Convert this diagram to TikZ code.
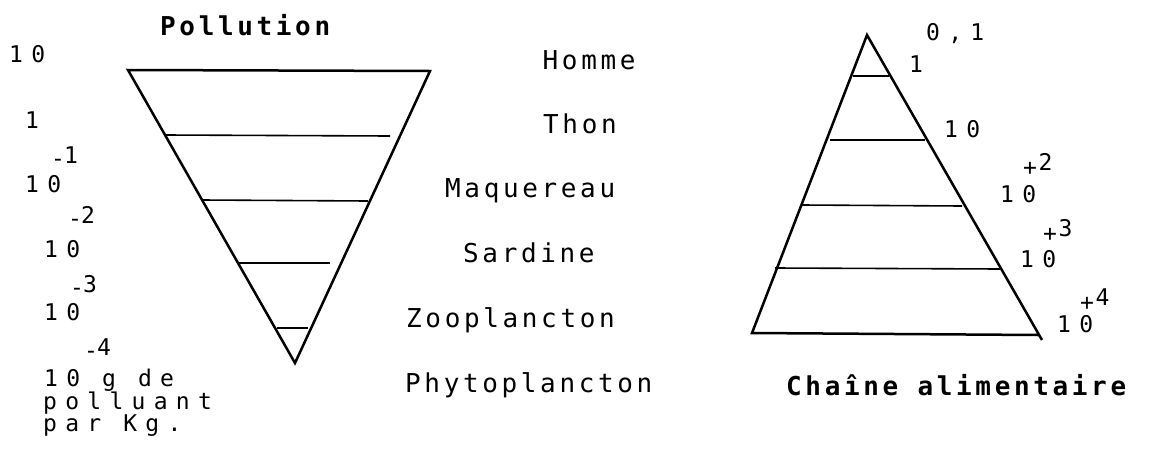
\documentclass[tikz,border=0pt]{standalone}
\usepackage{fontspec}
\newfontfamily\dotfont[LetterSpace=14]{DejaVu Sans Mono}
\newfontfamily\numfont[LetterSpace=36]{DejaVu Sans Mono}
\newcommand{\moins}{\raisebox{-3.5pt}{-}\kern-1pt}
\newcommand{\plusexp}{\raisebox{-5pt}{+}\kern1.5pt}
\newcommand{\espace}{\spaceskip=22pt\relax}
\tikzset{
  etage/.style={font=\dotfont\fontsize{26}{30}\selectfont, inner sep=0pt, anchor=base west},
  titre/.style={font=\dotfont\bfseries\fontsize{26}{30}\selectfont, inner sep=0pt, anchor=base west},
  chiffre/.style={font=\numfont\fontsize{23}{26}\selectfont, execute at begin node=\espace, inner sep=0pt, anchor=base west},
  bord/.style={line width=2.5pt, line join=miter},
  niveau/.style={line width=1.6pt},
}
\begin{document}
\begin{tikzpicture}[x=1pt,y=-1pt]
\useasboundingbox[fill=white] (0,0) rectangle (1151,458);

\node[titre] (pol) at (160,35) {Pollution};
\node[titre] (chaine) at (786,395) {Chaîne alimentaire};

\draw[bord] (128,70) -- (430,71) -- (295,363) -- cycle;
\draw[niveau] (165,135) -- (390,136);
\draw[niveau] (202,200) -- (368,201);
\draw[niveau] (238,263) -- (330,263);
\draw[niveau] (277,328) -- (308,328);

\draw[bord] (1042,340) -- (867,35) -- (752,333) -- (1038,335);
\draw[niveau] (853,76) -- (889,76);
\draw[niveau] (830,140) -- (925,140);
\draw[niveau] (802,205) -- (962,206);
\draw[niveau] (775,268) -- (1000,269);

\node[etage] (homme) at (542.5,69) {Homme};
\node[etage] (thon) at (543,133) {Thon};
\node[etage] (maq) at (445,197) {Maquereau};
\node[etage] (sard) at (463,262) {Sardine};
\node[etage] (zoo) at (406,327) {Zooplancton};
\node[etage] (phyto) at (405,392) {Phytoplancton};

\node[chiffre] (g10a) at (9,62) {10};
\node[chiffre] (g1) at (25,128) {1};
\node[chiffre] (ge1) at (51,163) {\moins1};
\node[chiffre] (g10b) at (25,192) {10};
\node[chiffre] (ge2) at (68,223) {\moins2};
\node[chiffre] (g10c) at (44,257) {10};
\node[chiffre] (ge3) at (70,292) {\moins3};
\node[chiffre] (g10d) at (44,320) {10};
\node[chiffre] (ge4) at (84,355) {\moins4};
\node[chiffre] (leg1) at (44,386) {10 g de};
\node[chiffre] (leg2) at (43,409) {polluant};
\node[chiffre] (leg3) at (43,431) {par Kg.};

\node[chiffre] (c01) at (926,40) {0,1};
\node[chiffre] (c1) at (909,72) {1};
\node[chiffre] (c10) at (944,137) {10};
\node[chiffre] (c100) at (1000,202) {10};
\node[chiffre] (ce2) at (1023,170) {\plusexp2};
\node[chiffre] (c1000) at (1020,267) {10};
\node[chiffre] (ce3) at (1043,236) {\plusexp3};
\node[chiffre] (c10000) at (1057,332) {10};
\node[chiffre] (ce4) at (1080,305) {\plusexp4};
\end{tikzpicture}
\end{document}
